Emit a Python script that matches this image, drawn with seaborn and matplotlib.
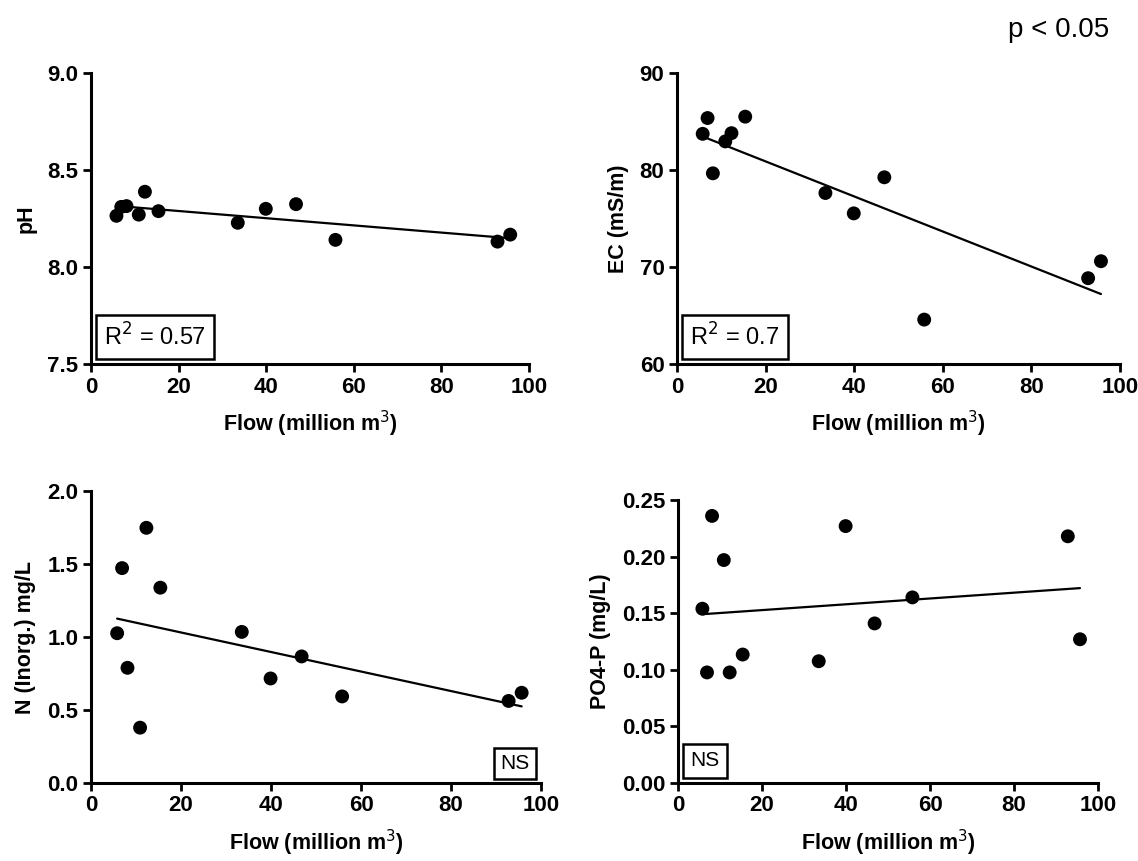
import numpy as np
import pandas as pd
import matplotlib
matplotlib.use("Agg")
import matplotlib.pyplot as plt
import seaborn as sns

# River flow (million m^3) for each sampling occasion
flow = [5.8, 6.9, 8.1, 10.9, 12.3, 15.4, 33.5, 39.9, 46.8, 55.8, 92.8, 95.7]

# Water quality variables at the same occasions
ph = [8.264, 8.31, 8.314, 8.27, 8.388, 8.288, 8.228, 8.30, 8.324, 8.14, 8.131, 8.167]
ec = [83.73, 85.36, 79.66, 82.95, 83.8, 85.5, 77.63, 75.53, 79.25, 64.58, 68.85, 70.6]
n_inorg = [1.026, 1.472, 0.789, 0.379, 1.748, 1.338, 1.035, 0.716, 0.867, 0.593, 0.562, 0.618]
po4p = [0.154, 0.0977, 0.236, 0.197, 0.0977, 0.1135, 0.1076, 0.227, 0.141, 0.164, 0.218, 0.127]

# Panel annotations
ph_note = "R$^2$ = 0.57"
ec_note = "R$^2$ = 0.7"
n_note = "NS"
p_note = "NS"
sig_note = "p < 0.05"

# Axis ticks
x_ticks = [0, 20, 40, 60, 80, 100]
ph_ticks = [7.5, 8.0, 8.5, 9.0]
ec_ticks = [60, 70, 80, 90]
n_ticks = [0.0, 0.5, 1.0, 1.5, 2.0]
p_ticks = [0.00, 0.05, 0.10, 0.15, 0.20, 0.25]

df = pd.DataFrame({"flow": flow, "ph": ph, "ec": ec, "n": n_inorg, "p": po4p})

sns.set_theme(style="ticks")
plt.rcParams["font.family"] = ["Liberation Sans", "DejaVu Sans"]
plt.rcParams.update({
    "text.color": "black",
    "axes.labelcolor": "black",
    "xtick.color": "black",
    "ytick.color": "black",
    "axes.edgecolor": "black",
})

fig = plt.figure(figsize=(11.38, 8.61), dpi=100)

panels = [
    # column, axes rect, ylabel, ticks, tick format, note, note corner
    ("ph", [0.0800, 0.5772, 0.3849, 0.3380], "pH", ph_ticks, "{:.1f}", ph_note, "left"),
    ("ec", [0.5949, 0.5772, 0.3893, 0.3380], "EC (mS/m)", ec_ticks, "{:.0f}", ec_note, "left"),
    ("n", [0.0800, 0.0906, 0.3954, 0.3391], "N (Inorg.) mg/L", n_ticks, "{:.1f}", n_note, "right"),
    ("p", [0.5958, 0.0906, 0.3691, 0.3286], "PO4-P (mg/L)", p_ticks, "{:.2f}", p_note, "left"),
]

for col, rect, ylabel, yt, fmt, note, where in panels:
    ax = fig.add_axes(rect)
    sns.regplot(data=df, x="flow", y=col, ax=ax, scatter=False, ci=None,
                truncate=True, color="black", line_kws={"linewidth": 1.6})
    sns.scatterplot(data=df, x="flow", y=col, ax=ax, color="black",
                    s=100, edgecolor="none", zorder=3, clip_on=False)
    ax.set_xlim(x_ticks[0], x_ticks[-1])
    ax.set_ylim(yt[0], yt[-1])
    ax.set_xticks(x_ticks)
    ax.set_xticklabels([str(t) for t in x_ticks])
    ax.set_yticks(yt)
    ax.set_yticklabels([fmt.format(t) for t in yt])
    for lab in ax.get_xticklabels() + ax.get_yticklabels():
        lab.set_fontweight("bold")
        lab.set_fontsize(16)
        lab.set_color("black")
    ax.tick_params(direction="out", length=6, width=2, color="black", pad=3)
    for side in ("top", "right"):
        ax.spines[side].set_visible(False)
    for side in ("left", "bottom"):
        ax.spines[side].set_linewidth(2.2)
        ax.spines[side].set_color("black")
    ax.set_ylabel(ylabel, fontsize=15.5, fontweight="bold", labelpad=8, color="black")
    ax.set_xlabel("Flow (million m$^3$)", fontsize=15.5, fontweight="bold", labelpad=8,
                  color="black")
    if where == "left":
        box = dict(boxstyle="square,pad=0.35", facecolor="white", edgecolor="black", linewidth=1.8)
        ax.text(0.03, 0.045, note, transform=ax.transAxes, ha="left", va="bottom",
                fontsize=17 if "R" in note else 15, bbox=box, color="black")
    else:
        box = dict(boxstyle="square,pad=0.3", facecolor="white", edgecolor="black", linewidth=1.8)
        ax.text(0.975, 0.035, note, transform=ax.transAxes, ha="right", va="bottom",
                fontsize=15, bbox=box, color="black")

fig.text(0.93, 0.965, sig_note, ha="center", va="center", fontsize=20, color="black")

fig.savefig("out.png", dpi=100)
